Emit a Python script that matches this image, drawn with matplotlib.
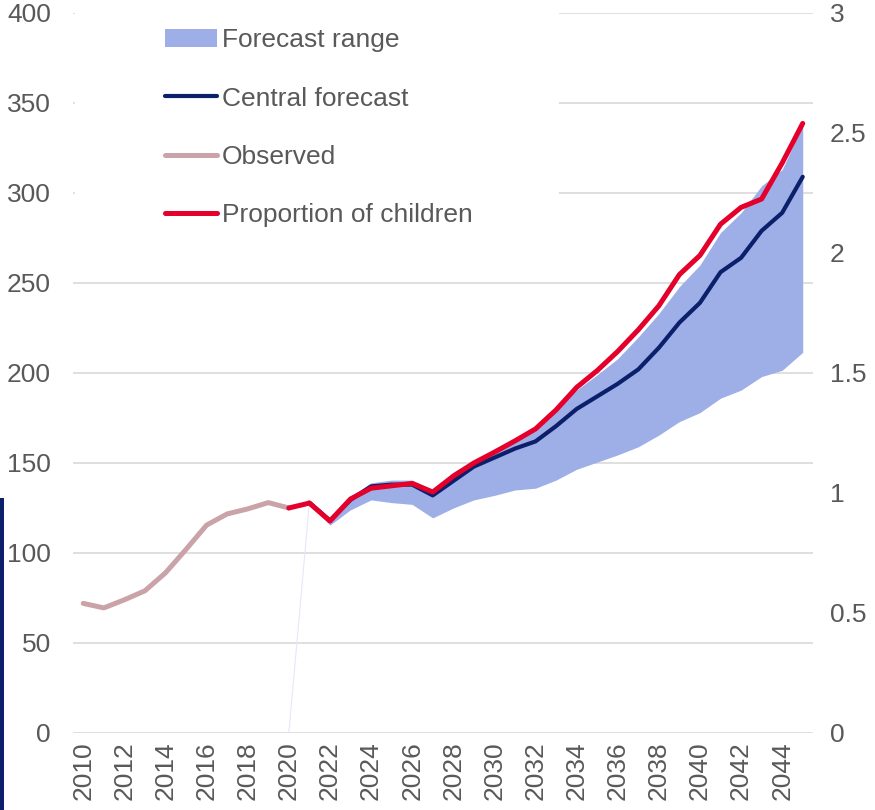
import matplotlib
matplotlib.use("Agg")
import matplotlib.pyplot as plt
from matplotlib.patches import Rectangle, Patch
from matplotlib.lines import Line2D
import numpy as np

plt.rcParams['font.family'] = ['Liberation Sans', 'DejaVu Sans']

# データ
obs_years = np.arange(2010, 2021)
observed = [72, 69.5, 74, 79, 89, 102, 115.5, 121.7, 124.5, 128, 125]

fc_years = np.arange(2021, 2046)
central = [128, 118, 129.5, 137, 138, 138, 132, 140, 148, 153, 158, 162, 170.5,
           180, 187, 194, 202, 214, 228, 239, 256, 264, 279, 289, 309]
range_low = [128, 115.5, 124, 129.5, 128, 127, 119.5, 125, 129.5, 132, 135, 136,
             140.5, 146.5, 150.5, 154.5, 159, 165.5, 173, 178, 186, 190.5, 198,
             201.5, 211.5]
range_high = [128, 119, 131.5, 139, 140.5, 140.5, 135, 145, 151.5, 157, 163, 169,
              180.5, 190.5, 199, 208, 220, 233, 248, 260, 278, 289, 304, 313, 338]

prop_years = np.arange(2020, 2046)
proportion = [0.9375, 0.958, 0.883, 0.975, 1.02, 1.03, 1.04, 1.004, 1.07, 1.125,
              1.17, 1.217, 1.267, 1.346, 1.44, 1.51, 1.59, 1.68, 1.78, 1.91, 1.99,
              2.12, 2.19, 2.225, 2.375, 2.54]

c_range = '#9dafe6'
c_central = '#0c1f6b'
c_obs = '#c9a3a8'
c_red = '#e4002b'
c_text = '#595959'
c_grid = '#d9d9d9'
fs = 19

fig = plt.figure(figsize=(8.75, 8.1), dpi=100)
ax = fig.add_axes([73 / 875, 77 / 810, 740 / 875, 720 / 810])
ax2 = ax.twinx()

ax.fill_between(fc_years, range_low, range_high, color=c_range, lw=0, zorder=2)
# 細い線 (元画像の描画アーティファクト)
ax.plot([2020, 2021], [0, range_low[0]], color='#e4e9f8', lw=0.8, zorder=1)
ax.plot(obs_years, observed, color=c_obs, lw=3.6, solid_capstyle='round', zorder=3)
ax.plot(fc_years, central, color=c_central, lw=3.0, solid_capstyle='round', zorder=4)
ax2.plot(prop_years, proportion, color=c_red, lw=3.6, solid_capstyle='round', zorder=5)

ax.set_xlim(2009.5, 2045.5)
ax.set_ylim(0, 400)
ax2.set_ylim(0, 3)
ax.set_yticks(np.arange(0, 401, 50))
ax2.set_yticks([0, 0.5, 1, 1.5, 2, 2.5, 3])
ax2.set_yticklabels(['0', '0.5', '1', '1.5', '2', '2.5', '3'])
ax.set_xticks(np.arange(2010, 2045, 2))
ax.set_xticklabels([str(y) for y in range(2010, 2045, 2)], rotation=90)

ax.grid(axis='y', color=c_grid, lw=1.2)
ax.set_axisbelow(True)
for a in (ax, ax2):
    for s in a.spines.values():
        s.set_visible(False)
ax.tick_params(axis='y', length=0, pad=16, labelsize=fs, labelcolor=c_text)
ax.tick_params(axis='x', length=0, pad=6, labelsize=fs, labelcolor=c_text)
ax2.tick_params(axis='y', length=0, pad=12, labelsize=fs, labelcolor=c_text)

# 凡例の白い背景
ax2.add_patch(Rectangle((75 / 875, 1 - 250 / 810), 484 / 875, 250 / 810,
                        transform=fig.transFigure, facecolor='white',
                        edgecolor='none', zorder=0.5))
handles = [Patch(facecolor=c_range, edgecolor='none'),
           Line2D([], [], color=c_central, lw=3.0, solid_capstyle='round'),
           Line2D([], [], color=c_obs, lw=3.6, solid_capstyle='round'),
           Line2D([], [], color=c_red, lw=3.6, solid_capstyle='round')]
labels = ['Forecast range', 'Central forecast', 'Observed', 'Proportion of children']
leg = ax2.legend(handles, labels, loc='upper left', bbox_to_anchor=(152 / 875, 1 - 15 / 810),
                 bbox_transform=fig.transFigure, frameon=False, fontsize=fs,
                 handlelength=1.95, handletextpad=0.19, labelspacing=1.30,
                 borderpad=0, handleheight=0.7)
for t in leg.get_texts():
    t.set_color(c_text)

# 左端の縦線
fig.patches.append(Rectangle((0, 0), 4 / 875, 312 / 810, transform=fig.transFigure,
                             facecolor='#0c1f6b', edgecolor='none'))

fig.savefig('out.png', dpi=100)
